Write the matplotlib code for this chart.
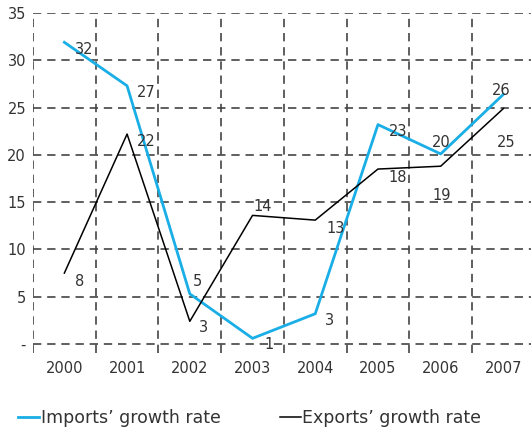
import matplotlib.pyplot as plt
import numpy as np

years = ['2000', '2001', '2002', '2003', '2004', '2005', '2006', '2007']
imports = [31.9, 27.3, 5.3, 0.6, 3.2, 23.2, 20.1, 26.4]
exports = [7.5, 22.2, 2.4, 13.6, 13.1, 18.5, 18.8, 24.9]
imports_labels = ['32', '27', '5', '1', '3', '23', '20', '26']
exports_labels = ['8', '22', '3', '14', '13', '18', '19', '25']
y_ticks = [0, 5, 10, 15, 20, 25, 30, 35]
y_ticklabels = ['-', '5', '10', '15', '20', '25', '30', '35']

# label offsets in pixels (dx right, dy up)
imp_off = [(20, -7), (19, -7), (8, 12), (17, -6), (14, -7), (20, -7), (1, 11), (-2, 4)]
exp_off = [(15, -8), (19, -7), (14, -6), (10, 9), (20, -8), (20, -8), (1, -29), (3, -34)]

txt = '#333333'
blue = '#1aaee6'

fig = plt.figure(figsize=(5.31, 4.36), dpi=100)
ax = fig.add_axes([33 / 531, 1 - 353 / 436, 1 - 33 / 531, (353 - 13) / 436])

x = np.arange(len(years))
ax.set_xlim(-0.5, 7.44)
ax.set_ylim(-0.95, 35)

# dashed grid
for yv in y_ticks:
    ax.axhline(yv, color='#444444', lw=1.2, ls=(0, (5, 3.5)), zorder=1)
for xv in np.arange(-0.5, 8, 1):
    ax.axvline(xv, color='#444444', lw=1.2, ls=(0, (5, 3.5)), zorder=1)

ax.plot(x, imports, color=blue, lw=2, zorder=3, label='Imports\u2019 growth rate')
ax.plot(x, exports, color='black', lw=1.1, zorder=3, label='Exports\u2019 growth rate')

for i in range(len(years)):
    ax.annotate(imports_labels[i], (x[i], imports[i]), xytext=imp_off[i],
                textcoords='offset pixels', ha='center', va='center',
                fontsize=10.5, color=txt, zorder=4)
    ax.annotate(exports_labels[i], (x[i], exports[i]), xytext=exp_off[i],
                textcoords='offset pixels', ha='center', va='center',
                fontsize=10.5, color=txt, zorder=4)

for s in ax.spines.values():
    s.set_visible(False)
ax.set_xticks(x)
ax.set_xticklabels(years, fontsize=10.5, color=txt)
ax.set_yticks(y_ticks)
ax.set_yticklabels(y_ticklabels, fontsize=10.5, color=txt)
ax.tick_params(length=0, pad=5)
ax.tick_params(axis='x', pad=6)

leg = fig.legend(loc='lower left', bbox_to_anchor=(0.005, -0.015), ncol=2,
                 frameon=False, fontsize=12.5, handlelength=1.2, handletextpad=0.1,
                 columnspacing=3.4, labelcolor=txt)

fig.savefig('out.png', dpi=100)
